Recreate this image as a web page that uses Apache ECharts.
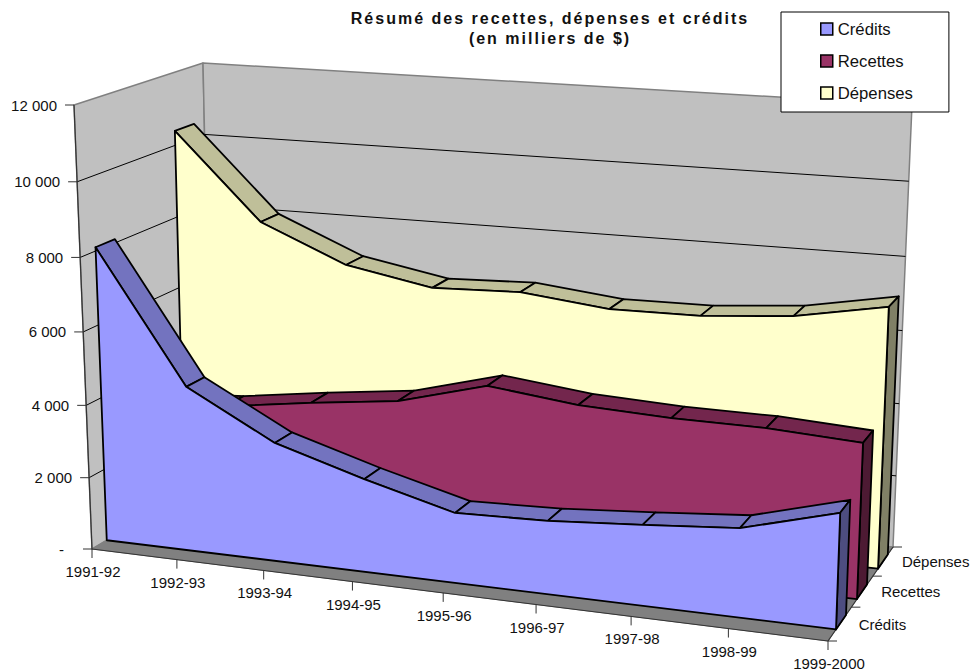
<!DOCTYPE html>
<html>
<head>
<meta charset="utf-8">
<title>Résumé des recettes, dépenses et crédits</title>
<script src="https://cdn.jsdelivr.net/npm/echarts@6/dist/echarts.min.js"></script>
<style>
  html, body { margin: 0; padding: 0; background: #fff; }
  #chart { width: 973px; height: 672px; }
  /* le titre du graphique d'origine est espace */
  #chart svg text[style*="bold"] { letter-spacing: 2px; }
</style>
</head>
<body>
<div id="chart"></div>
<script>
  var categories = ['1991-92', '1992-93', '1993-94', '1994-95', '1995-96', '1996-97', '1997-98', '1998-99', '1999-2000']
  var credits = [8100, 4540, 3260, 2540, 1900, 1970, 2150, 2350, 3030]
  var recettes = [3300, 3430, 3760, 4050, 4700, 4420, 4310, 4290, 4150]
  var depenses = [10400, 8040, 7030, 6590, 6670, 6410, 6430, 6630, 7080]
  var yTicks = [0, 2000, 4000, 6000, 8000, 10000, 12000]
  var yTickLabels = ['-', '2 000', '4 000', '6 000', '8 000', '10 000', '12 000']
  var depthLabels = ['Crédits', 'Recettes', 'Dépenses']

  var FONT = '15px "Liberation Sans", Arial, sans-serif'

  // coins de la boite 3D : bas-gauche, bas-droit, haut-droit, haut-gauche
  var frontQuad = [[92, 549], [828, 641], [845, 157], [74, 105]]
  var backQuad = [[212, 478], [893, 547], [912, 105], [203, 63]]
  var depthTicks = [0, 0.36, 0.69, 1]

  function quadMap (q) {
    var x0 = q[0][0], y0 = q[0][1], x1 = q[1][0], y1 = q[1][1]
    var x2 = q[2][0], y2 = q[2][1], x3 = q[3][0], y3 = q[3][1]
    var dx1 = x1 - x2, dx2 = x3 - x2, dx3 = x0 - x1 + x2 - x3
    var dy1 = y1 - y2, dy2 = y3 - y2, dy3 = y0 - y1 + y2 - y3
    var den = dx1 * dy2 - dx2 * dy1
    var g = (dx3 * dy2 - dx2 * dy3) / den
    var h = (dx1 * dy3 - dx3 * dy1) / den
    var a = x1 - x0 + g * x1, b = x3 - x0 + h * x3
    var d = y1 - y0 + g * y1, e = y3 - y0 + h * y3
    return function (u, v) {
      var k = g * u + h * v + 1
      return [(a * u + b * v + x0) / k, (d * u + e * v + y0) / k]
    }
  }
  var frontMap = quadMap(frontQuad)
  var backMap = quadMap(backQuad)

  // passe du repere plat de la grille (axes caches) a la perspective
  function project (api, i, value, w) {
    var c = api.coord([i, value])
    var o = api.coord([0, 0])
    var e = api.coord([categories.length - 1, 12000])
    var u = (c[0] - o[0]) / (e[0] - o[0])
    var v = (c[1] - o[1]) / (e[1] - o[1])
    var f = frontMap(u, v)
    var b = backMap(u, v)
    return [f[0] + (b[0] - f[0]) * w, f[1] + (b[1] - f[1]) * w]
  }

  function poly (points, fill, stroke, lineWidth) {
    return {
      type: 'polygon',
      shape: { points: points },
      style: { fill: fill, stroke: stroke, lineWidth: lineWidth, lineJoin: 'round' }
    }
  }
  function line (a, b, stroke, lineWidth) {
    return {
      type: 'line',
      shape: { x1: a[0], y1: a[1], x2: b[0], y2: b[1] },
      style: { stroke: stroke, lineWidth: lineWidth }
    }
  }
  function label (text, x, y, align) {
    return {
      type: 'text',
      style: { text: text, x: x, y: y, font: FONT, fill: '#111', align: align, verticalAlign: 'middle' }
    }
  }

  function renderBox (params, api) {
    var last = categories.length - 1
    var top = yTicks[yTicks.length - 1]
    var kids = []
    // murs et sol
    kids.push(poly([project(api, 0, 0, 0), project(api, 0, top, 0), project(api, 0, top, 1), project(api, 0, 0, 1)], '#c0c0c0', '#808080', 1.5))
    kids.push(poly([project(api, 0, 0, 1), project(api, 0, top, 1), project(api, last, top, 1), project(api, last, 0, 1)], '#c0c0c0', '#808080', 1.5))
    kids.push(poly([project(api, 0, 0, 0), project(api, last, 0, 0), project(api, last, 0, 1), project(api, 0, 0, 1)], '#808080', '#808080', 1))
    // quadrillage
    yTicks.forEach(function (t, n) {
      if (n > 0 && n < yTicks.length - 1) {
        kids.push(line(project(api, 0, t, 0), project(api, 0, t, 1), '#000', 1))
        kids.push(line(project(api, 0, t, 1), project(api, last, t, 1), '#000', 1))
      }
    })
    kids.push(line(project(api, 0, 0, 0), project(api, 0, top, 0), '#333', 1.2))
    kids.push(line(project(api, 0, 0, 0), project(api, last, 0, 0), '#333', 1.2))
    kids.push(line(project(api, last, 0, 0), project(api, last, 0, 1), '#333', 1.2))
    // axe des valeurs
    yTicks.forEach(function (t, n) {
      var p = project(api, 0, t, 0)
      kids.push(line([p[0] - 9, p[1]], p, '#333', 1))
      kids.push(label(yTickLabels[n], p[0] - (t === 0 ? 28 : 17), p[1], 'right'))
    })
    // axe des categories
    categories.forEach(function (c, i) {
      var p = project(api, i, 0, 0)
      kids.push(line(p, [p[0], p[1] + 9], '#333', 1))
      kids.push(label(c, p[0] + 1, p[1] + 22.5, 'center'))
    })
    // axe de profondeur
    depthTicks.forEach(function (w) {
      var p = project(api, last, 0, w)
      kids.push(line(p, [p[0] + 9, p[1]], '#333', 1))
    })
    depthLabels.forEach(function (s, n) {
      var p = project(api, last, 0, (depthTicks[n] + depthTicks[n + 1]) / 2)
      kids.push(label(s, p[0] + 19, p[1], 'left'))
    })
    return { type: 'group', children: kids }
  }

  function renderArea (values, w0, w1, faceColor, stripColor, sideColor) {
    return function (params, api) {
      if (params.dataIndex !== 0) return null
      var last = values.length - 1
      var kids = []
      for (var i = 0; i < last; i++) {
        kids.push(poly([
          project(api, i, values[i], w0),
          project(api, i + 1, values[i + 1], w0),
          project(api, i + 1, values[i + 1], w1),
          project(api, i, values[i], w1)
        ], stripColor, '#000', 1.8))
      }
      kids.push(poly([
        project(api, last, 0, w0),
        project(api, last, values[last], w0),
        project(api, last, values[last], w1),
        project(api, last, 0, w1)
      ], sideColor, '#000', 1.8))
      var face = [project(api, 0, 0, w0)]
      values.forEach(function (val, k) { face.push(project(api, k, val, w0)) })
      face.push(project(api, last, 0, w0))
      kids.push(poly(face, faceColor, '#000', 1.8))
      return { type: 'group', children: kids }
    }
  }

  function toRows (values) {
    return values.map(function (v, i) { return [i, v] })
  }

  var chart = echarts.init(document.getElementById('chart'), null, { renderer: 'svg' })
  var option = {
    animation: false,
    backgroundColor: '#fff',
    title: {
      text: 'Résumé des recettes, dépenses et crédits\n(en milliers de $)',
      left: 545,
      top: 3,
      textAlign: 'center',
      textStyle: { fontFamily: '"Liberation Sans", Arial, sans-serif', fontSize: 16, fontWeight: 'bold', lineHeight: 20, color: '#111' }
    },
    legend: {
      data: ['Crédits', 'Recettes', 'Dépenses'],
      orient: 'vertical',
      left: 781,
      top: 12,
      padding: [8, 36, 10, 39],
      itemWidth: 12,
      itemHeight: 12,
      itemGap: 14,
      icon: 'rect',
      backgroundColor: '#fff',
      borderColor: '#000',
      borderWidth: 1,
      itemStyle: { borderColor: '#000', borderWidth: 1.5 },
      textStyle: { fontFamily: '"Liberation Sans", Arial, sans-serif', fontSize: 16.7, lineHeight: 18, color: '#111' }
    },
    grid: { left: 0, right: 0, top: 0, bottom: 0 },
    xAxis: { type: 'category', data: categories, boundaryGap: false, show: false },
    yAxis: { type: 'value', min: 0, max: 12000, interval: 2000, show: false },
    series: [
      { type: 'custom', silent: true, renderItem: renderBox, data: [[0, 0]], z: 1 },
      { name: 'Dépenses', type: 'custom', silent: true, renderItem: renderArea(depenses, 0.77, 0.92, '#ffffcc', '#bfbf99', '#808066'), data: toRows(depenses), itemStyle: { color: '#ffffcc' }, z: 2 },
      { name: 'Recettes', type: 'custom', silent: true, renderItem: renderArea(recettes, 0.446, 0.6, '#993366', '#73264d', '#4d1a33'), data: toRows(recettes), itemStyle: { color: '#993366' }, z: 3 },
      { name: 'Crédits', type: 'custom', silent: true, renderItem: renderArea(credits, 0.123, 0.277, '#9999ff', '#7373bf', '#4d4d80'), data: toRows(credits), itemStyle: { color: '#9999ff' }, z: 4 }
    ]
  }
  chart.setOption(option)
</script>
</body>
</html>
